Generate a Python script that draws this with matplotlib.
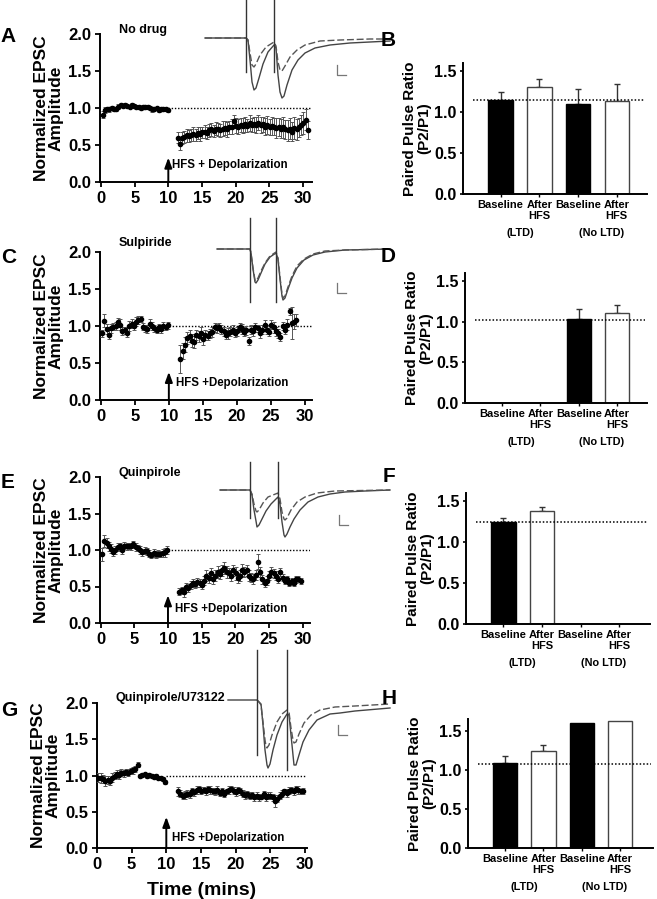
import numpy as np
import matplotlib
matplotlib.use("Agg")
import matplotlib.pyplot as plt

plt.rcParams['font.family'] = ['Liberation Sans', 'DejaVu Sans']
plt.rcParams['font.weight'] = 'bold'
plt.rcParams['axes.labelweight'] = 'bold'

W, H = 657, 899

# ---------------- time course data (normalized EPSC amplitude) ----------------
# one sweep every 20 s
A_pre = [0.91, 0.97, 0.99, 0.98, 1.00, 0.99, 0.98, 1.02, 1.04, 1.03,
         1.04, 1.03, 1.02, 1.04, 1.03, 1.02, 1.01, 1.00, 1.02, 1.01,
         1.02, 1.00, 0.98, 0.99, 1.00, 0.97, 0.98, 0.99, 0.98, 0.97]
A_pre_err = [0.05, 0.04, 0.03, 0.03, 0.03, 0.03, 0.02, 0.03, 0.03, 0.02,
             0.03, 0.02, 0.02, 0.03, 0.02, 0.02, 0.03, 0.02, 0.02, 0.03,
             0.02, 0.02, 0.03, 0.02, 0.02, 0.03, 0.02, 0.03, 0.02, 0.02]
A_post = [0.60, 0.52, 0.59, 0.61, 0.63, 0.62, 0.64, 0.65, 0.64, 0.66,
          0.65, 0.67, 0.68, 0.66, 0.70, 0.71, 0.69, 0.72, 0.71, 0.70,
          0.72, 0.73, 0.71, 0.74, 0.75, 0.82, 0.76, 0.75, 0.77, 0.76,
          0.78, 0.76, 0.80, 0.77, 0.78, 0.77, 0.80, 0.77, 0.78, 0.75,
          0.77, 0.74, 0.76, 0.75, 0.73, 0.74, 0.72, 0.74, 0.71, 0.70,
          0.72, 0.68, 0.73, 0.71, 0.74, 0.77, 0.80, 0.84, 0.70]
A_post_err = [0.07, 0.09, 0.08, 0.08, 0.09, 0.08, 0.08, 0.09, 0.08, 0.08,
              0.09, 0.08, 0.09, 0.08, 0.09, 0.09, 0.08, 0.09, 0.09, 0.09,
              0.10, 0.09, 0.10, 0.09, 0.10, 0.09, 0.10, 0.10, 0.09, 0.10,
              0.10, 0.09, 0.11, 0.10, 0.10, 0.11, 0.10, 0.11, 0.10, 0.11,
              0.12, 0.11, 0.12, 0.12, 0.13, 0.12, 0.13, 0.14, 0.13, 0.14,
              0.14, 0.13, 0.15, 0.14, 0.13, 0.14, 0.15, 0.14, 0.12]

C_pre = [0.90, 1.07, 0.96, 0.88, 0.97, 0.99, 1.00, 1.05, 1.02, 0.93,
         0.94, 0.91, 1.00, 1.03, 1.00, 1.06, 1.08, 1.10, 0.99, 0.97,
         0.96, 1.03, 1.00, 0.97, 0.95, 0.98, 0.96, 1.00, 0.98, 1.01]
C_pre_err = [0.05, 0.09, 0.07, 0.06, 0.06, 0.05, 0.05, 0.06, 0.07, 0.05,
             0.05, 0.06, 0.07, 0.06, 0.05, 0.06, 0.05, 0.04, 0.05, 0.05,
             0.05, 0.06, 0.05, 0.05, 0.04, 0.05, 0.05, 0.05, 0.04, 0.05]
C_post = [0.56, 0.66, 0.75, 0.84, 0.86, 0.80, 0.78, 0.88, 0.86, 0.90,
          0.82, 0.88, 0.87, 0.90, 0.92, 0.98, 0.97, 0.99, 0.95, 0.93,
          0.88, 0.90, 0.92, 0.95, 0.90, 0.93, 0.98, 0.96, 0.92, 0.94,
          0.80, 0.95, 0.93, 0.98, 0.97, 0.90, 0.95, 1.01, 0.95, 0.92,
          1.02, 0.98, 0.93, 0.90, 0.85, 1.00, 0.95, 1.02, 1.20, 1.04,
          1.06, 1.08]
C_post_err = [0.19, 0.11, 0.10, 0.08, 0.08, 0.09, 0.08, 0.07, 0.07, 0.08,
              0.07, 0.07, 0.06, 0.06, 0.07, 0.06, 0.06, 0.05, 0.06, 0.06,
              0.06, 0.07, 0.06, 0.06, 0.05, 0.06, 0.06, 0.07, 0.06, 0.06,
              0.05, 0.06, 0.07, 0.06, 0.05, 0.06, 0.06, 0.07, 0.06, 0.05,
              0.06, 0.07, 0.06, 0.06, 0.05, 0.06, 0.06, 0.07, 0.05, 0.22,
              0.10, 0.08]

E_pre = [0.94, 1.12, 1.10, 1.05, 1.02, 0.97, 1.00, 1.04, 1.05, 1.00,
         1.06, 1.05, 1.06, 1.05, 1.08, 1.04, 1.03, 1.00, 0.97, 0.99,
         0.98, 0.95, 0.93, 0.96, 0.94, 0.95, 0.94, 0.96, 0.97, 1.00]
E_pre_err = [0.09, 0.08, 0.07, 0.06, 0.06, 0.05, 0.06, 0.05, 0.05, 0.06,
             0.05, 0.05, 0.04, 0.05, 0.05, 0.05, 0.04, 0.05, 0.05, 0.05,
             0.05, 0.05, 0.04, 0.05, 0.05, 0.05, 0.04, 0.05, 0.06, 0.06]
E_post = [0.43, 0.45, 0.42, 0.50, 0.48, 0.52, 0.55, 0.53, 0.56, 0.55,
          0.52, 0.58, 0.65, 0.62, 0.68, 0.60, 0.65, 0.70, 0.67, 0.72,
          0.75, 0.70, 0.68, 0.65, 0.72, 0.68, 0.62, 0.65, 0.73, 0.70,
          0.72, 0.65, 0.62, 0.60, 0.66, 0.84, 0.70, 0.60, 0.55, 0.58,
          0.65, 0.70, 0.68, 0.65, 0.60, 0.70, 0.62, 0.58, 0.60, 0.55,
          0.57, 0.55, 0.60, 0.60, 0.58]
E_post_err = [0.05, 0.05, 0.06, 0.05, 0.05, 0.06, 0.05, 0.05, 0.06, 0.05,
              0.06, 0.06, 0.07, 0.07, 0.08, 0.07, 0.07, 0.08, 0.07, 0.07,
              0.08, 0.08, 0.07, 0.08, 0.08, 0.09, 0.07, 0.08, 0.08, 0.07,
              0.08, 0.07, 0.06, 0.07, 0.07, 0.10, 0.07, 0.06, 0.05, 0.06,
              0.06, 0.07, 0.06, 0.06, 0.05, 0.06, 0.05, 0.05, 0.05, 0.04,
              0.05, 0.04, 0.05, 0.04, 0.04]

G_pre = [0.97, 0.96, 0.95, 0.93, 0.94, 0.92, 0.97, 1.00, 1.02, 1.01,
         1.04, 1.03, 1.05, 1.04, 1.06, 1.07, 1.09, 1.15, 1.00, 1.01,
         1.02, 1.00, 1.01, 0.99, 0.98, 0.99, 0.97, 0.96, 0.95, 0.91]
G_pre_err = [0.06, 0.07, 0.06, 0.07, 0.06, 0.05, 0.06, 0.05, 0.05, 0.06,
             0.05, 0.05, 0.04, 0.05, 0.04, 0.05, 0.04, 0.03, 0.02, 0.03,
             0.02, 0.03, 0.02, 0.03, 0.02, 0.03, 0.02, 0.02, 0.03, 0.03]
G_post = [0.78, 0.75, 0.72, 0.73, 0.75, 0.74, 0.78, 0.77, 0.80, 0.82,
          0.79, 0.80, 0.78, 0.82, 0.80, 0.79, 0.78, 0.80, 0.76, 0.78,
          0.75, 0.78, 0.80, 0.82, 0.79, 0.77, 0.80, 0.78, 0.75, 0.73,
          0.74, 0.72, 0.73, 0.70, 0.72, 0.70, 0.71, 0.74, 0.70, 0.72,
          0.72, 0.70, 0.65, 0.68, 0.72, 0.75, 0.78, 0.76, 0.79, 0.80,
          0.78, 0.82, 0.80, 0.78, 0.79]
G_post_err = [0.06, 0.05, 0.05, 0.05, 0.05, 0.05, 0.05, 0.05, 0.05, 0.04,
              0.05, 0.04, 0.05, 0.04, 0.05, 0.04, 0.05, 0.05, 0.04, 0.05,
              0.05, 0.04, 0.05, 0.04, 0.05, 0.05, 0.04, 0.05, 0.05, 0.05,
              0.05, 0.05, 0.04, 0.05, 0.05, 0.05, 0.04, 0.05, 0.05, 0.05,
              0.05, 0.05, 0.08, 0.05, 0.05, 0.05, 0.04, 0.05, 0.05, 0.04,
              0.05, 0.04, 0.05, 0.04, 0.04]

pre_start = {'A': 0.25, 'C': 0.2, 'E': 0.2, 'G': 0.2}
post_start = {'A': 11.4, 'C': 11.7, 'E': 11.7, 'G': 11.7}

# ---------------- paired pulse ratio (bars) ----------------
bar_labels = ['Baseline', 'After\nHFS', 'Baseline', 'After\nHFS']
ppr_B = [1.15, 1.31, 1.10, 1.14]
ppr_B_err = [0.09, 0.09, 0.18, 0.20]
ppr_D = [np.nan, np.nan, 1.03, 1.11]
ppr_D_err = [np.nan, np.nan, 0.13, 0.10]
ppr_F = [1.24, 1.38, np.nan, np.nan]
ppr_F_err = [0.05, 0.055, np.nan, np.nan]
ppr_H = [1.09, 1.24, 1.60, 1.63]
ppr_H_err = [0.09, 0.08, np.nan, np.nan]
ppr_ref = {'B': 1.15, 'D': 1.02, 'F': 1.24, 'H': 1.08}

# ---------------- example EPSC traces (ms, pA-like units) ----------------
A_tr_t = [5, 46, 48, 50, 52, 54, 56, 59, 63, 68, 74, 76, 78, 80, 82, 84, 87, 92, 98, 105, 115, 130, 150, 170, 190]
A_tr_solid = [0, 0, -2, -22, -44, -52, -50, -40, -26, -14, -7, -10, -37, -54, -60, -58, -47, -32, -22, -15, -10, -7, -5, -4, -3]
A_tr_t_d = [5, 46, 48, 50, 52, 54, 56, 60, 66, 74, 76, 78, 80, 82, 85, 90, 97, 105, 120, 140, 170, 190]
A_tr_dash = [0, 0, -2, -15, -27, -29, -26, -17, -9, -4, -8, -24, -32, -33, -28, -19, -12, -7, -3, -2, -1, -1]

C_tr_t = [12, 45, 46, 48, 50, 51, 53, 56, 60, 65, 71, 73, 75, 77, 78, 80, 83, 87, 92, 99, 108, 120, 140, 185]
C_tr_solid = [0, 0, -4, -20, -33, -34, -31, -24, -15, -8, -4, -10, -30, -47, -51, -49, -40, -29, -19, -11, -6, -3, -1, 0]
C_tr_dash = [0, 0, -4, -19, -31, -32, -29, -22, -14, -7, -3, -9, -28, -45, -49, -47, -38, -27, -17, -10, -5, -2, -1, 0]

E_tr_t = [15, 45, 47, 49, 51, 52, 54, 57, 61, 66, 73, 75, 77, 79, 80, 82, 85, 89, 95, 103, 113, 125, 140, 160, 185]
E_tr_solid = [0, 0, -5, -20, -31, -37, -35, -29, -21, -14, -7, -14, -32, -45, -47, -44, -37, -29, -20, -12, -7, -4, -2, -1, 0]
E_tr_t_d = [15, 45, 47, 49, 51, 52, 54, 58, 63, 73, 75, 77, 79, 80, 82, 86, 92, 100, 112, 130, 185]
E_tr_dash = [0, 0, -4, -14, -21, -22, -20, -13, -7, -3, -9, -22, -29, -30, -28, -20, -12, -7, -3, -1, 0]

G_tr_t = [23, 52, 54, 56, 58, 60, 62, 63, 65, 68, 72, 77, 82, 84, 86, 88, 89, 91, 94, 98, 104, 112, 125, 135, 150, 185]
G_tr_solid = [0, 0, -2, -4, -25, -50, -65, -68, -64, -50, -35, -22, -14, -15, -35, -55, -65, -65, -55, -42, -30, -20, -14, -13, -11, -8]
G_tr_t_d = [52, 54, 56, 58, 60, 61, 62, 64, 67, 72, 77, 82, 84, 86, 88, 89, 91, 94, 99, 106, 115, 130, 150, 185]
G_tr_dash = [0, -2, -5, -22, -40, -46, -48, -45, -35, -22, -14, -10, -12, -28, -40, -43, -42, -34, -23, -15, -10, -7, -6, -4]


def px_axes(fig, l, t, r, b):
    return fig.add_axes([l / W, 1 - b / H, (r - l) / W, (b - t) / H])


def style_axes(ax):
    for side in ['top', 'right']:
        ax.spines[side].set_visible(False)
    for side in ['left', 'bottom']:
        ax.spines[side].set_linewidth(1.4)


def plot_timecourse(ax, key, pre, pre_err, post, post_err, xlim, drug, drug_y,
                    arrow_top, hfs_text, hfs_x, hfs_y):
    pre_t = pre_start[key] + np.arange(len(pre)) / 3
    post_t = post_start[key] + np.arange(len(post)) / 3
    for t, v, e in [(pre_t, pre, pre_err), (post_t, post, post_err)]:
        ax.errorbar(t, v, yerr=e, fmt='o', ms=3, mfc='black', mec='black',
                    ecolor='#555555', elinewidth=0.7, capsize=1.6, capthick=0.7,
                    zorder=3)
    ax.plot([10, xlim[1]], [1, 1], ls=(0, (1, 1.3)), color='black', lw=1, zorder=2)
    ax.set_xlim(*xlim)
    ax.set_ylim(0, 2.0)
    ax.set_xticks(range(0, 31, 5))
    ax.set_yticks([0, 0.5, 1.0, 1.5, 2.0])
    ax.set_yticklabels(['0.0', '0.5', '1.0', '1.5', '2.0'])
    ax.tick_params(direction='out', length=3.5, width=1.3, labelsize=12, pad=3)
    style_axes(ax)
    ax.annotate('', xy=(10, arrow_top), xytext=(10, 0),
                arrowprops=dict(arrowstyle='-|>,head_length=0.6,head_width=0.22',
                                lw=1.4, color='black', shrinkA=0, shrinkB=0))
    ax.text(hfs_x, hfs_y, hfs_text, fontsize=8.3, va='center', ha='left')
    ax.text(2.6, drug_y, drug, fontsize=9, va='center', ha='left', clip_on=False)
    ax.set_ylabel('Normalized EPSC\nAmplitude', fontsize=12.5, linespacing=1.0, labelpad=3)


def plot_bars(ax, vals, errs, ref, ymax, xmax):
    pos = np.arange(1, 5)
    fills = ['black', 'white', 'black', 'white']
    for p, v, e, c in zip(pos, vals, errs, fills):
        if np.isnan(v):
            continue
        ax.bar(p, v, width=0.63, color=c, edgecolor='black' if c == 'black' else '#444444',
               lw=1.0, zorder=2)
        if not np.isnan(e):
            ax.errorbar(p, v, yerr=[[0], [e]], fmt='none', ecolor='#333333',
                        elinewidth=1.0, capsize=2.5, capthick=1.0, zorder=1)
    ax.plot([0.3, xmax - 0.05], [ref, ref], ls=(0, (1, 1.3)), color='black', lw=1.1, zorder=3)
    ax.set_xlim(0.03, xmax)
    ax.set_ylim(0, ymax)
    ax.set_yticks([0, 0.5, 1.0, 1.5])
    ax.set_yticklabels(['0.0', '0.5', '1.0', '1.5'])
    ax.set_xticks(pos)
    ax.set_xticklabels(bar_labels, fontsize=8, linespacing=1.05)
    ax.tick_params(axis='y', direction='out', length=2.5, width=1.2, labelsize=11.5, pad=2)
    ax.tick_params(axis='x', direction='out', length=2.5, width=1.0, pad=2)
    style_axes(ax)
    for xg, grp in [(1.5, '(LTD)'), (3.6, '(No LTD)')]:
        ax.annotate(grp, xy=(xg, 0), xycoords=('data', 'axes fraction'),
                    xytext=(0, -28), textcoords='offset points',
                    ha='center', va='center', fontsize=7.8)
    ax.set_ylabel('Paired Pulse Ratio\n(P2/P1)', fontsize=11, linespacing=1.0, labelpad=2)


def plot_trace(fig, box, baseline, t_s, solid, t_d, dash, stims, art, bar):
    l, t, r, b = box
    ax = px_axes(fig, l, t, r, b)
    ax.set_xlim(0, r - l)
    ax.set_ylim(baseline - b, baseline - t)
    ax.axis('off')
    ax.patch.set_alpha(0)
    ax.plot(t_s, solid, color='#444444', lw=1.0)
    ax.plot(t_d, dash, color='#555555', lw=1.0, ls=(0, (5, 2)))
    for s, a in zip(stims, art):
        ax.plot([s, s], [a[0], a[1]], color='#333333', lw=1.0)
    bx, by0, by1, bx1 = bar
    ax.plot([bx, bx, bx1], [by0, by1, by1], color='#777777', lw=0.9)


fig = plt.figure(figsize=(W / 100, H / 100), dpi=100)

axA = px_axes(fig, 100, 34, 312, 182)
plot_timecourse(axA, 'A', A_pre, A_pre_err, A_post, A_post_err, (-0.15, 31.35),
                'No drug', 2.05, 0.33, 'HFS + Depolarization', 10.5, 0.23)
axC = px_axes(fig, 100, 252, 312, 400)
plot_timecourse(axC, 'C', C_pre, C_pre_err, C_post, C_post_err, (-0.1, 31.0),
                'Sulpiride', 2.12, 0.38, 'HFS +Depolarization', 11.0, 0.23)
axE = px_axes(fig, 100, 477, 310, 623)
plot_timecourse(axE, 'E', E_pre, E_pre_err, E_post, E_post_err, (-0.1, 31.1),
                'Quinpirole', 2.05, 0.38, 'HFS +Depolarization', 11.0, 0.19)
axG = px_axes(fig, 97, 703, 307, 848)
plot_timecourse(axG, 'G', G_pre, G_pre_err, G_post, G_post_err, (0, 30.3),
                'Quinpirole/U73122', 2.07, 0.43, 'HFS +Depolarization', 10.8, 0.14)
axG.set_xlabel('Time (mins)', fontsize=14, labelpad=7)

axB = px_axes(fig, 463, 63, 647, 194)
plot_bars(axB, ppr_B, ppr_B_err, ppr_ref['B'], 1.6, 4.78)
axD = px_axes(fig, 465, 273, 647, 403)
plot_bars(axD, ppr_D, ppr_D_err, ppr_ref['D'], 1.6, 4.78)
axF = px_axes(fig, 466, 493, 650, 624)
plot_bars(axF, ppr_F, ppr_F_err, ppr_ref['F'], 1.6, 4.8)
axH = px_axes(fig, 468, 719, 653, 848)
plot_bars(axH, ppr_H, ppr_H_err, ppr_ref['H'], 1.65, 4.86)

plot_trace(fig, (200, 0, 395, 105), 38, A_tr_t, A_tr_solid, A_tr_t_d, A_tr_dash,
           [46, 74], [(38, -34), (38, -34)], (137, -27, -37, 146))
plot_trace(fig, (205, 215, 395, 310), 249, C_tr_t, C_tr_solid, C_tr_t, C_tr_dash,
           [45, 71], [(31, -53), (31, -53)], (132, -34, -44, 141))
plot_trace(fig, (205, 455, 395, 545), 490, E_tr_t, E_tr_solid, E_tr_t_d, E_tr_dash,
           [45, 73], [(28, -28), (28, -28)], (134, -25, -35, 143))
plot_trace(fig, (205, 645, 395, 780), 700, G_tr_t, G_tr_solid, G_tr_t_d, G_tr_dash,
           [52, 82], [(50, -55), (50, -70)], (133, -25, -35, 142))

for letter, x, y in [('A', 8, 36), ('B', 388, 40), ('C', 9, 258), ('D', 388, 257),
                     ('E', 8, 482), ('F', 389, 477), ('G', 9, 710), ('H', 389, 699)]:
    fig.text(x / W, 1 - y / H, letter, fontsize=15, fontweight='bold',
             ha='center', va='center')

fig.savefig('out.png', dpi=100)
